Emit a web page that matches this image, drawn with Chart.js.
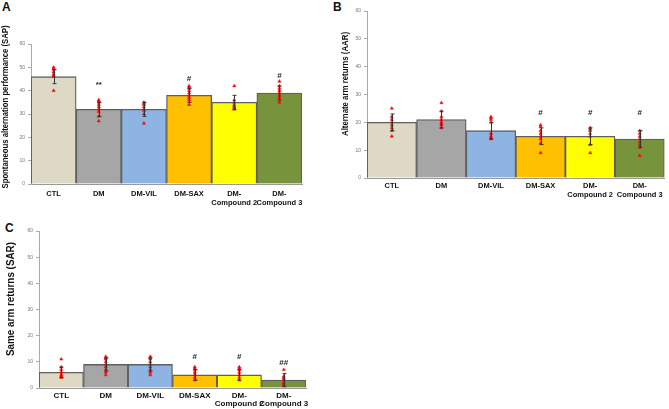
<!DOCTYPE html>
<html>
<head>
<meta charset="utf-8">
<script src="https://cdn.jsdelivr.net/npm/chart.js@4.4.0/dist/chart.umd.min.js"></script>
<style>
  html, body { margin: 0; padding: 0; background: #fff; }
  body { width: 669px; height: 409px; position: relative; overflow: hidden; font-family: 'Liberation Sans', Arial, sans-serif; }
  .panel { position: absolute; }
  .letter { position: absolute; font-weight: bold; font-size: 12px; color: #111; }
</style>
</head>
<body>
<div class="letter" style="left:2px;top:0px;">A</div>
<div class="letter" style="left:333px;top:0px;">B</div>
<div class="letter" style="left:5px;top:221px;">C</div>

<div class="panel" style="left:0;top:0;width:310px;height:212px;"><canvas id="chart-a"></canvas></div>
<div class="panel" style="left:335px;top:0;width:334px;height:205px;"><canvas id="chart-b"></canvas></div>
<div class="panel" style="left:0;top:215px;width:315px;height:194px;"><canvas id="chart-c"></canvas></div>

<script>
// ---- data ----
const groups = ['CTL', 'DM', 'DM-VIL', 'DM-SAX', ['DM-', 'Compound 2'], ['DM-', 'Compound 3']];
const barColors = ['#ddd9c4', '#a6a6a6', '#8db4e2', '#ffc000', '#ffff00', '#77933c'];
const yTicks = [0, 10, 20, 30, 40, 50, 60];

// Panel A - SAP
const sapMean = [46, 32, 32, 38, 35, 39];
const sapErr = [3, 3, 3, 3, 3, 3];
const sapDots = [
  [50, 49.5, 49, 48, 47, 46.5, 46, 40],
  [36, 35.5, 35, 34, 33, 32, 31, 29, 27],
  [35, 34.5, 34, 33, 32, 31.5, 30, 26],
  [42, 41.5, 41, 40, 39, 38, 37, 36, 34],
  [42, 36, 35, 34, 33.5, 33, 32.5, 32],
  [44, 42, 41, 40, 39, 38, 37, 35]
];
const sapMarks = ['', '**', '', '#', '', '#'];
const sapMarkY = [0, 42.5, 0, 45, 0, 46.3];

// Panel B - AAR
const aarMean = [20, 21, 17, 15, 15, 14];
const aarErr = [3, 3, 3, 3, 3, 3];
const aarDots = [
  [25, 22, 21, 20, 19, 18, 17, 15],
  [27, 24, 22, 21, 20, 19.5, 19, 18],
  [22, 21.5, 21, 20, 16, 15, 14.5, 14],
  [19, 18.5, 17, 16, 15, 14, 12.5, 9],
  [18, 17.5, 17, 16, 15, 12, 9],
  [17, 16, 15, 14, 13, 12, 11, 8]
];
const aarMarks = ['', '', '', '#', '#', '#'];
const aarMarkY = [0, 0, 0, 23.5, 23.5, 23.5];

// Panel C - SAR
const sarMean = [6, 9, 9, 5, 5, 3];
const sarErr = [2, 2.5, 2.5, 2, 2, 2.5];
const sarDots = [
  [11, 8, 7, 6, 5, 4.5, 4],
  [12, 11.5, 11, 10, 9, 8, 7, 6, 5],
  [12, 11.5, 11, 10, 9, 8, 7, 6, 5],
  [8, 7.5, 7, 6, 5, 4, 3],
  [8, 7.5, 7, 6, 5, 4, 3],
  [7, 4.5, 4, 3.5, 3, 2, 1.5, 1]
];
const sarMarks = ['', '', '', '#', '#', '##'];
const sarMarkY = [0, 0, 0, 12, 12, 9.5];

// error bars, significance marks and the rotated y title
const extrasPlugin = {
  id: 'extras',
  afterDatasetsDraw(chart, args, opts) {
    const { ctx, scales: { x, y } } = chart;
    ctx.save();
    ctx.strokeStyle = '#333';
    ctx.lineWidth = 1;
    opts.mean.forEach((m, i) => {
      const px = Math.round(x.getPixelForValue(i)) + 0.5;
      const top = y.getPixelForValue(m + opts.err[i]);
      const bot = y.getPixelForValue(m - opts.err[i]);
      ctx.beginPath();
      ctx.moveTo(px, top); ctx.lineTo(px, bot);
      ctx.moveTo(px - 2, top); ctx.lineTo(px + 2, top);
      ctx.moveTo(px - 2, bot); ctx.lineTo(px + 2, bot);
      ctx.stroke();
    });
    ctx.fillStyle = '#222';
    ctx.font = 'bold ' + opts.markSize + 'px "Liberation Sans", Arial';
    ctx.textAlign = 'center';
    ctx.textBaseline = 'middle';
    opts.marks.forEach((t, i) => {
      if (!t) return;
      ctx.fillText(t, x.getPixelForValue(i), y.getPixelForValue(opts.markY[i]));
    });

    // y axis title
    ctx.fillStyle = '#111';
    ctx.font = 'bold ' + opts.titleFont + 'px "Liberation Sans", Arial';
    ctx.translate(opts.titleX, opts.titleY);
    ctx.rotate(-Math.PI / 2);
    ctx.fillText(opts.title, 0, 0, opts.titleLen);
    ctx.restore();
  }
};

function makeChart(id, cfg) {
  const dots = [];
  cfg.dots.forEach((arr, i) => arr.forEach(v => dots.push({ x: i, y: v })));
  return new Chart(document.getElementById(id), {
    type: 'bar',
    data: {
      labels: groups,
      datasets: [
        {
          type: 'scatter',
          xAxisID: 'xd',
          data: dots,
          showLine: false,
          pointStyle: 'triangle',
          pointRadius: 1.8,
          pointBackgroundColor: '#ff0000',
          pointBorderColor: '#ff0000',
          pointBorderWidth: 0.5,
          order: 1
        },
        {
          data: cfg.mean,
          backgroundColor: barColors,
          borderColor: '#5f5f5f',
          borderWidth: 1.3,
          barPercentage: 1,
          categoryPercentage: 1,
          grouped: false,
          order: 2
        }
      ]
    },
    options: {
      responsive: true,
      maintainAspectRatio: false,
      animation: false,
      layout: { padding: { top: cfg.padTop, right: cfg.padRight, left: 0, bottom: 0 } },
      plugins: {
        legend: { display: false },
        tooltip: { enabled: false },
        extras: {
          mean: cfg.mean, err: cfg.err, marks: cfg.marks, markY: cfg.markY, markSize: cfg.markSize,
          title: cfg.title, titleFont: cfg.titleFont, titleX: cfg.titleX, titleY: cfg.titleY, titleLen: cfg.titleLen
        }
      },
      scales: {
        x: {
          type: 'category',
          offset: true,
          grid: { display: false, drawTicks: false },
          border: { color: '#999', width: 1 },
          ticks: {
            color: '#111',
            padding: cfg.xPad,
            maxRotation: 0,
            autoSkip: false,
            font: { family: 'Liberation Sans', size: cfg.xFont, weight: 'bold', lineHeight: cfg.xLine }
          },
          afterFit: (s) => { s.height = cfg.xHeight; }
        },
        xd: {
          type: 'linear',
          display: false,
          offset: false,
          min: -0.5,
          max: 5.5
        },
        y: {
          min: 0,
          max: 60,
          afterBuildTicks: (s) => { s.ticks = yTicks.map(v => ({ value: v })); },
          grid: { drawOnChartArea: false, drawTicks: true, tickLength: 3, color: '#aaa' },
          border: { color: '#aaa', width: 1 },
          ticks: { color: '#777', padding: 3, font: { family: 'Liberation Sans', size: cfg.tickFont } },
          afterFit: (s) => { s.width = cfg.yWidth; }
        }
      }
    },
    plugins: [extrasPlugin]
  });
}

makeChart('chart-a', {
  mean: sapMean, err: sapErr, dots: sapDots, marks: sapMarks, markY: sapMarkY, markSize: 8,
  title: 'Spontaneous alternation performance (SAP)', titleFont: 8.2, titleX: 6, titleY: 107, titleLen: 163,
  padTop: 44, padRight: 8, yWidth: 31, xHeight: 28, xPad: 5, xFont: 7.5, xLine: 1.2, tickFont: 5
});
makeChart('chart-b', {
  mean: aarMean, err: aarErr, dots: aarDots, marks: aarMarks, markY: aarMarkY, markSize: 8,
  title: 'Alternate arm returns (AAR)', titleFont: 8.2, titleX: 11, titleY: 84, titleLen: 104,
  padTop: 11, padRight: 2, yWidth: 32, xHeight: 27, xPad: 3, xFont: 7.5, xLine: 1.2, tickFont: 5
});
makeChart('chart-c', {
  mean: sarMean, err: sarErr, dots: sarDots, marks: sarMarks, markY: sarMarkY, markSize: 8,
  title: 'Same arm returns (SAR)', titleFont: 10.5, titleX: 11, titleY: 84, titleLen: 114,
  padTop: 16, padRight: 9, yWidth: 39, xHeight: 21, xPad: 4, xFont: 8, xLine: 1.0, tickFont: 5
});
</script>
</body>
</html>
